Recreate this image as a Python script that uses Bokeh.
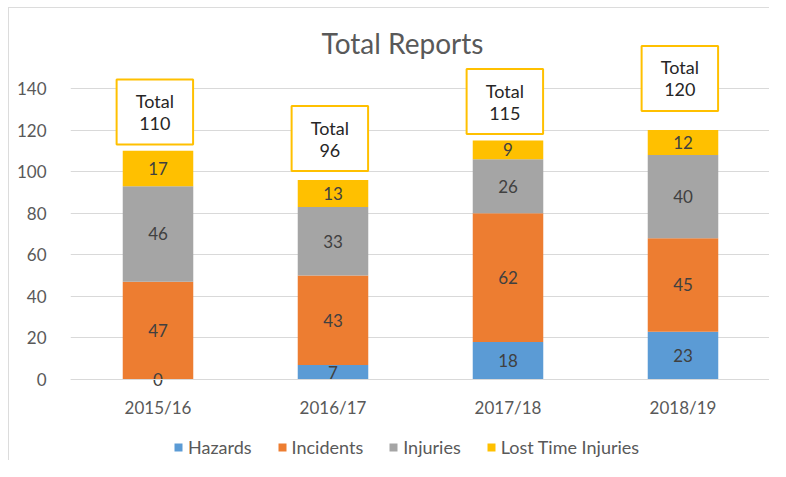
import numpy as np
from bokeh.plotting import figure
from bokeh.models import (ColumnDataSource, Range1d, FixedTicker, Legend, LegendItem,
                          Label, FactorRange)
from bokeh.transform import dodge
from bokeh.core.properties import value
from bokeh.embed import file_html
from bokeh.resources import INLINE

# ---- data ----
years = ["2015/16", "2016/17", "2017/18", "2018/19"]
hazards = [0, 7, 18, 23]
incidents = [47, 43, 62, 45]
injuries = [46, 33, 26, 40]
lost_time = [17, 13, 9, 12]
totals = [110, 96, 115, 120]
series_names = ["Hazards", "Incidents", "Injuries", "Lost Time Injuries"]
y_ticks = [0, 20, 40, 60, 80, 100, 120, 140]

# ---- styling / layout ----
colors = ["#5B9BD5", "#ED7D31", "#A5A5A5", "#FFC000"]
total_label_lift = [18.7, 19.9, 18.7, 24.8]   # how far above each bar the total box sits (data units)
FONT = "Lato"
GREY = "#595959"
DARK = "#404040"
GRID = "#d9d9d9"

p = figure(x_range=FactorRange(*years, range_padding=0), y_range=Range1d(-39.45, 177.5),
           width=761, height=453, output_backend="svg", toolbar_location=None,
           min_border_left=61, min_border_right=0, min_border_top=2, min_border_bottom=0)
p.styles = {"margin-left": "8px", "margin-top": "7px",
            "border-left": "1px solid #dcdcdc", "border-top": "1px solid #dcdcdc"}
p.outline_line_color = None
p.background_fill_color = "white"
p.border_fill_color = "white"

series = [hazards, incidents, injuries, lost_time]
bottom = np.zeros(len(years))
items = []
label_x, label_y, label_t = [], [], []
for name, vals, col in zip(series_names, series, colors):
    vals = np.array(vals, dtype=float)
    top = bottom + vals
    src = ColumnDataSource(dict(x=years, bottom=bottom.copy(), top=top.copy()))
    r = p.vbar(x="x", bottom="bottom", top="top", width=0.403, source=src,
               fill_color=col, line_color=None)
    items.append(LegendItem(label=name, renderers=[r]))
    for yr, b, v in zip(years, bottom, vals):
        label_x.append(yr)
        label_y.append(b + v / 2.0)
        label_t.append(str(int(v)))
    bottom = top

lab_src = ColumnDataSource(dict(x=label_x, y=label_y, t=label_t))
p.text(x="x", y="y", text="t", source=lab_src, text_align="center", text_baseline="middle",
       text_font=value(FONT), text_font_size="17px", text_color=DARK)

# total boxes
box_src = ColumnDataSource(dict(
    x=years,
    y=[t + l for t, l in zip(totals, total_label_lift)],
    t=["Total\n%d" % t for t in totals]))
p.rect(x=dodge("x", -0.018, range=p.x_range), y="y", width=0.437, height=65, height_units="screen",
       source=box_src, fill_color="white", line_color="#FFC000", line_width=2)
p.text(x=dodge("x", -0.018, range=p.x_range), y="y", text="t", source=box_src,
       text_align="center", text_baseline="middle", text_line_height=1.0,
       text_font=value(FONT), text_font_size="18px", text_color="#262626")

# title
p.add_layout(Label(x=2.0, y=162.1, x_offset=-18, text="Total Reports", text_align="center",
                   text_baseline="middle", text_font=FONT, text_font_size="28px",
                   text_color=GREY))

# axes & grid
p.yaxis.ticker = FixedTicker(ticks=y_ticks)
p.ygrid.ticker = FixedTicker(ticks=y_ticks)
p.ygrid.grid_line_color = GRID
p.xgrid.grid_line_color = None
p.yaxis.axis_line_color = None
p.yaxis.major_tick_line_color = None
p.yaxis.minor_tick_line_color = None
p.yaxis.major_label_standoff = 18
p.xaxis.fixed_location = 0
p.xaxis.axis_line_color = GRID
p.xaxis.major_tick_line_color = None
p.xaxis.major_label_standoff = 12
for ax in (p.xaxis, p.yaxis):
    ax.major_label_text_font = FONT
    ax.major_label_text_font_size = "17px"
    ax.major_label_text_color = GREY

legend = Legend(items=items, orientation="horizontal", location=(103, 3),
                border_line_color=None, background_fill_alpha=0,
                label_text_font=FONT, label_text_font_size="18px", label_text_color=GREY,
                glyph_width=10, glyph_height=10, label_standoff=5, spacing=25,
                margin=0, padding=0)
p.add_layout(legend)

open("out.html", "w").write(file_html(p, INLINE))
